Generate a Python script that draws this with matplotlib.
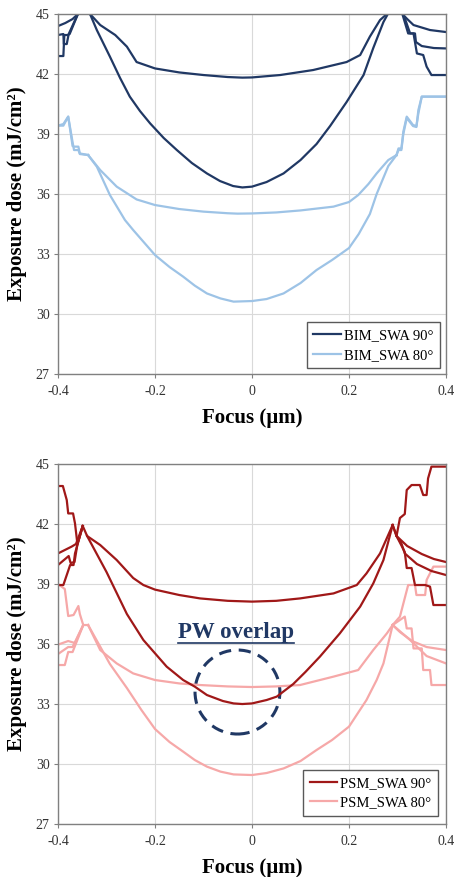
import matplotlib.pyplot as plt
from matplotlib.patches import Ellipse
from matplotlib.lines import Line2D

plt.rcParams["font.family"] = "Liberation Serif"
plt.rcParams["axes.unicode_minus"] = False

# ---- BIM, SWA 90 deg ----
bim90_top_f = [-0.334, -0.313, -0.282, -0.258, -0.238, -0.2, -0.15, -0.1, -0.05, -0.02, 0.0, 0.058, 0.126, 0.195, 0.223, 0.243, 0.264, 0.278]
bim90_top_d = [45.0, 44.45, 43.95, 43.37, 42.6, 42.28, 42.08, 41.95, 41.85, 41.82, 41.83, 41.95, 42.2, 42.6, 42.95, 43.87, 44.7, 45.0]
bim90_deep_f = [-0.334, -0.32, -0.293, -0.272, -0.252, -0.231, -0.21, -0.182, -0.155, -0.124, -0.093, -0.066, -0.039, -0.02, 0.0, 0.03, 0.065, 0.1, 0.133, 0.161, 0.195, 0.23, 0.25, 0.271, 0.28]
bim90_deep_d = [45.0, 44.2, 42.87, 41.8, 40.87, 40.15, 39.53, 38.8, 38.2, 37.55, 37.03, 36.65, 36.4, 36.33, 36.37, 36.6, 37.03, 37.7, 38.5, 39.4, 40.6, 41.95, 43.3, 44.6, 45.0]
bim90_l1_f = [-0.4, -0.385, -0.37, -0.359]
bim90_l1_d = [44.4, 44.55, 44.75, 45.0]
bim90_l2_f = [-0.4, -0.389, -0.388, -0.382, -0.378, -0.359]
bim90_l2_d = [43.95, 44.0, 43.5, 43.5, 44.0, 45.0]
bim90_l3_f = [-0.4, -0.389, -0.387, -0.38, -0.376, -0.359]
bim90_l3_d = [42.9, 42.9, 43.95, 43.95, 44.0, 45.0]
bim90_r1_f = [0.31, 0.32, 0.333, 0.367, 0.4]
bim90_r1_d = [45.0, 44.75, 44.45, 44.2, 44.1]
bim90_r2_f = [0.31, 0.322, 0.336, 0.338, 0.35, 0.375, 0.4]
bim90_r2_d = [45.0, 44.03, 44.03, 43.6, 43.4, 43.3, 43.28]
bim90_r3_f = [0.312, 0.326, 0.333, 0.34, 0.353, 0.36, 0.37, 0.4]
bim90_r3_d = [45.0, 44.03, 44.03, 43.03, 42.95, 42.37, 41.95, 41.95]

# ---- BIM, SWA 80 deg ----
bim80_top_f = [-0.338, -0.313, -0.279, -0.238, -0.2, -0.15, -0.1, -0.05, -0.03, 0.0, 0.05, 0.1, 0.168, 0.2, 0.219, 0.24, 0.257, 0.281, 0.298]
bim80_top_d = [37.95, 37.2, 36.37, 35.73, 35.45, 35.25, 35.12, 35.04, 35.02, 35.03, 35.08, 35.18, 35.37, 35.6, 35.95, 36.5, 37.03, 37.7, 37.95]
bim80_deep_f = [-0.338, -0.32, -0.293, -0.262, -0.245, -0.2, -0.17, -0.142, -0.118, -0.093, -0.065, -0.038, 0.0, 0.03, 0.065, 0.1, 0.133, 0.165, 0.2, 0.22, 0.243, 0.257, 0.281, 0.298]
bim80_deep_d = [37.95, 37.37, 35.95, 34.7, 34.2, 32.95, 32.35, 31.87, 31.42, 31.03, 30.78, 30.62, 30.65, 30.75, 31.03, 31.55, 32.2, 32.7, 33.3, 34.0, 35.0, 36.0, 37.4, 37.95]
bim80_l1_f = [-0.4, -0.389, -0.379, -0.37, -0.367, -0.358, -0.355, -0.338]
bim80_l1_d = [39.42, 39.42, 39.87, 38.4, 38.37, 38.37, 38.03, 37.95]
bim80_l2_d = [39.42, 39.5, 39.87, 38.6, 38.2, 38.2, 38.0, 37.95]
bim80_r1_f = [0.298, 0.302, 0.308, 0.312, 0.319, 0.332, 0.339, 0.343, 0.35, 0.4]
bim80_r1_d = [37.95, 38.28, 38.28, 39.12, 39.87, 39.45, 39.4, 40.03, 40.87, 40.87]
bim80_r2_d = [37.95, 38.2, 38.2, 39.0, 39.8, 39.4, 39.35, 40.2, 40.87, 40.87]

# ---- PSM, SWA 90 deg ----
psm90_top_f = [-0.349, -0.34, -0.313, -0.279, -0.245, -0.224, -0.2, -0.15, -0.107, -0.05, 0.0, 0.05, 0.099, 0.168, 0.216, 0.236, 0.264, 0.29]
psm90_top_d = [41.9, 41.4, 40.95, 40.2, 39.3, 38.95, 38.72, 38.45, 38.28, 38.16, 38.12, 38.16, 38.28, 38.53, 38.95, 39.53, 40.53, 41.95]
psm90_deep_f = [-0.34, -0.3, -0.258, -0.224, -0.176, -0.142, -0.118, -0.093, -0.06, -0.038, -0.02, 0.0, 0.03, 0.051, 0.085, 0.11, 0.14, 0.181, 0.223, 0.25, 0.271, 0.29]
psm90_deep_d = [41.4, 39.6, 37.5, 36.2, 34.87, 34.2, 33.87, 33.45, 33.15, 33.03, 33.0, 33.03, 33.2, 33.37, 34.0, 34.6, 35.37, 36.53, 37.87, 39.03, 40.2, 41.95]
psm90_l1_f = [-0.4, -0.39, -0.382, -0.379, -0.369, -0.365, -0.36, -0.349]
psm90_l1_d = [43.9, 43.9, 43.2, 42.53, 42.53, 42.03, 41.0, 41.9]
psm90_l2_f = [-0.4, -0.372, -0.363, -0.349]
psm90_l2_d = [40.53, 40.87, 41.0, 41.9]
psm90_l3_f = [-0.4, -0.378, -0.374, -0.366, -0.36, -0.349]
psm90_l3_d = [39.95, 40.4, 40.05, 40.1, 41.0, 41.9]
psm90_l4_f = [-0.4, -0.389, -0.375, -0.368, -0.365, -0.349]
psm90_l4_d = [38.95, 38.95, 39.95, 39.95, 40.53, 41.9]
psm90_r1_f = [0.29, 0.298, 0.305, 0.315, 0.319, 0.329, 0.346, 0.353, 0.36, 0.363, 0.37, 0.4]
psm90_r1_d = [41.95, 41.4, 42.3, 42.5, 43.7, 43.95, 43.95, 43.45, 43.45, 44.28, 44.87, 44.87]
psm90_r2_f = [0.29, 0.298, 0.32, 0.35, 0.375, 0.4]
psm90_r2_d = [41.95, 41.4, 40.9, 40.5, 40.25, 40.1]
psm90_r3_f = [0.298, 0.308, 0.315, 0.34, 0.37, 0.4]
psm90_r3_d = [41.4, 41.03, 40.53, 40.0, 39.65, 39.45]
psm90_r4_f = [0.298, 0.315, 0.319, 0.329, 0.336, 0.357, 0.367, 0.374, 0.4]
psm90_r4_d = [41.4, 40.6, 39.8, 39.8, 38.95, 38.95, 38.87, 37.95, 37.95]

# ---- PSM, SWA 80 deg ----
psm80_top_f = [-0.338, -0.313, -0.279, -0.245, -0.2, -0.15, -0.107, -0.05, 0.0, 0.05, 0.099, 0.168, 0.219, 0.25, 0.278, 0.29]
psm80_top_d = [36.95, 35.7, 35.03, 34.53, 34.2, 34.03, 33.95, 33.88, 33.85, 33.88, 33.95, 34.37, 34.7, 35.7, 36.53, 36.95]
psm80_deep_f = [-0.338, -0.293, -0.258, -0.228, -0.2, -0.17, -0.142, -0.118, -0.093, -0.065, -0.038, 0.0, 0.03, 0.065, 0.1, 0.133, 0.165, 0.2, 0.236, 0.257, 0.271, 0.29]
psm80_deep_d = [36.95, 35.0, 33.8, 32.7, 31.75, 31.1, 30.62, 30.2, 29.87, 29.62, 29.48, 29.45, 29.55, 29.78, 30.15, 30.7, 31.2, 31.87, 33.2, 34.2, 35.03, 36.95]
psm80_l1_f = [-0.4, -0.386, -0.379, -0.368, -0.358, -0.355, -0.348, -0.338]
psm80_l1_d = [39.0, 38.75, 37.4, 37.45, 37.9, 37.5, 36.95, 36.95]
psm80_l2_f = [-0.4, -0.379, -0.365, -0.348]
psm80_l2_d = [35.97, 36.15, 36.05, 36.95]
psm80_l3_f = [-0.4, -0.379, -0.37, -0.348]
psm80_l3_d = [35.5, 35.85, 35.85, 36.95]
psm80_l4_f = [-0.4, -0.386, -0.379, -0.37, -0.348]
psm80_l4_d = [34.95, 34.95, 35.6, 35.6, 36.95]
psm80_r1_f = [0.29, 0.305, 0.322, 0.336, 0.339, 0.357, 0.36, 0.374, 0.4]
psm80_r1_d = [36.95, 37.37, 38.95, 38.95, 38.45, 38.45, 39.2, 39.87, 39.87]
psm80_r2_f = [0.29, 0.305, 0.33, 0.36, 0.4]
psm80_r2_d = [36.95, 36.6, 36.15, 35.85, 35.7]
psm80_r3_f = [0.29, 0.326, 0.36, 0.4]
psm80_r3_d = [36.95, 36.2, 35.4, 35.03]
psm80_r4_f = [0.29, 0.315, 0.319, 0.329, 0.333, 0.35, 0.353, 0.367, 0.37, 0.4]
psm80_r4_d = [36.95, 37.37, 36.78, 36.78, 35.78, 35.78, 34.7, 34.7, 33.95, 33.95]

x_ticks = [-0.4, -0.2, 0.0, 0.2, 0.4]
x_labels = ["-0.4", "-0.2", "0", "0.2", "0.4"]
y_ticks = [27, 30, 33, 36, 39, 42, 45]

navy = "#203864"
light_blue = "#9DC3E6"
dark_red = "#A01818"
pink = "#F6A8A8"

bim90 = [(bim90_top_f, bim90_top_d), (bim90_deep_f, bim90_deep_d),
         (bim90_l1_f, bim90_l1_d), (bim90_l2_f, bim90_l2_d), (bim90_l3_f, bim90_l3_d),
         (bim90_r1_f, bim90_r1_d), (bim90_r2_f, bim90_r2_d), (bim90_r3_f, bim90_r3_d)]
bim80 = [(bim80_top_f, bim80_top_d), (bim80_deep_f, bim80_deep_d),
         (bim80_l1_f, bim80_l1_d), (bim80_l1_f, bim80_l2_d),
         (bim80_r1_f, bim80_r1_d), (bim80_r1_f, bim80_r2_d)]
psm90 = [(psm90_top_f, psm90_top_d), (psm90_deep_f, psm90_deep_d),
         (psm90_l1_f, psm90_l1_d), (psm90_l2_f, psm90_l2_d), (psm90_l3_f, psm90_l3_d), (psm90_l4_f, psm90_l4_d),
         (psm90_r1_f, psm90_r1_d), (psm90_r2_f, psm90_r2_d), (psm90_r3_f, psm90_r3_d), (psm90_r4_f, psm90_r4_d)]
psm80 = [(psm80_top_f, psm80_top_d), (psm80_deep_f, psm80_deep_d),
         (psm80_l1_f, psm80_l1_d), (psm80_l2_f, psm80_l2_d), (psm80_l3_f, psm80_l3_d), (psm80_l4_f, psm80_l4_d),
         (psm80_r1_f, psm80_r1_d), (psm80_r2_f, psm80_r2_d), (psm80_r3_f, psm80_r3_d), (psm80_r4_f, psm80_r4_d)]


def draw_series(ax, lines, color, label):
    for i, (f, d) in enumerate(lines):
        ax.plot(f, d, color=color, lw=1.6, solid_joinstyle="round",
                label=label if i == 0 else None)


def style_axes(ax):
    ax.set_xlim(-0.4, 0.4)
    ax.set_ylim(27, 45)
    ax.set_xticks(x_ticks)
    ax.set_xticklabels(x_labels)
    ax.set_yticks(y_ticks)
    ax.grid(True, color="#d9d9d9", lw=0.8)
    ax.set_axisbelow(True)
    for s in ax.spines.values():
        s.set_color("#808080")
        s.set_linewidth(1.0)
    ax.tick_params(direction="out", length=3, width=0.8, color="#808080",
                   labelsize=10, labelcolor="#333333")
    ax.tick_params(axis="x", pad=5)
    ax.tick_params(axis="y", pad=3)
    ax.set_xlabel("Focus (µm)", fontsize=15, fontweight="bold")
    ax.set_ylabel("Exposure dose (mJ/cm²)", fontsize=15, fontweight="bold")
    ax.xaxis.set_label_coords(0.5, -0.094)
    ax.yaxis.set_label_coords(-0.08, 0.5)


fig = plt.figure(figsize=(4.54, 8.77), dpi=100)
ax1 = fig.add_axes([0.1278, 0.5735, 0.8546, 0.4105])
ax2 = fig.add_axes([0.1278, 0.0604, 0.8546, 0.4105])

# top: binary mask
draw_series(ax1, bim80, light_blue, "BIM_SWA 80°")
draw_series(ax1, bim90, navy, "BIM_SWA 90°")
style_axes(ax1)
h, l = ax1.get_legend_handles_labels()
ax1.legend(h[::-1], l[::-1], loc="lower right", fontsize=10.5, frameon=True,
           fancybox=False, edgecolor="#595959", framealpha=1, handlelength=1.9,
           handletextpad=0.2, labelspacing=0.45, borderpad=0.45, borderaxespad=0.4)

# bottom: phase shift mask
draw_series(ax2, psm80, pink, "PSM_SWA 80°")
draw_series(ax2, psm90, dark_red, "PSM_SWA 90°")
style_axes(ax2)
h, l = ax2.get_legend_handles_labels()
ax2.legend(h[::-1], l[::-1], loc="lower right", fontsize=10.5, frameon=True,
           fancybox=False, edgecolor="#595959", framealpha=1, handlelength=1.9,
           handletextpad=0.2, labelspacing=0.45, borderpad=0.45, borderaxespad=0.55)

# process window overlap marker
ax2.add_patch(Ellipse((-0.03, 33.6), 0.175, 4.2, fill=False, edgecolor=navy,
                      lw=2.2, linestyle=(0, (4, 2.5))))
txt = ax2.text(-0.032, 36.6, "PW overlap", ha="center", va="center", fontsize=16.5,
               fontweight="bold", color=navy)

# underline the annotation
fig.canvas.draw()
bb = txt.get_window_extent()
inv = fig.transFigure.inverted()
(x0, y0), (x1, _) = inv.transform([(bb.x0, bb.y0 - 0.5), (bb.x1, bb.y0)])
fig.add_artist(Line2D([x0, x1], [y0, y0], color=navy, lw=1.2))

fig.savefig("out.png", dpi=100)
